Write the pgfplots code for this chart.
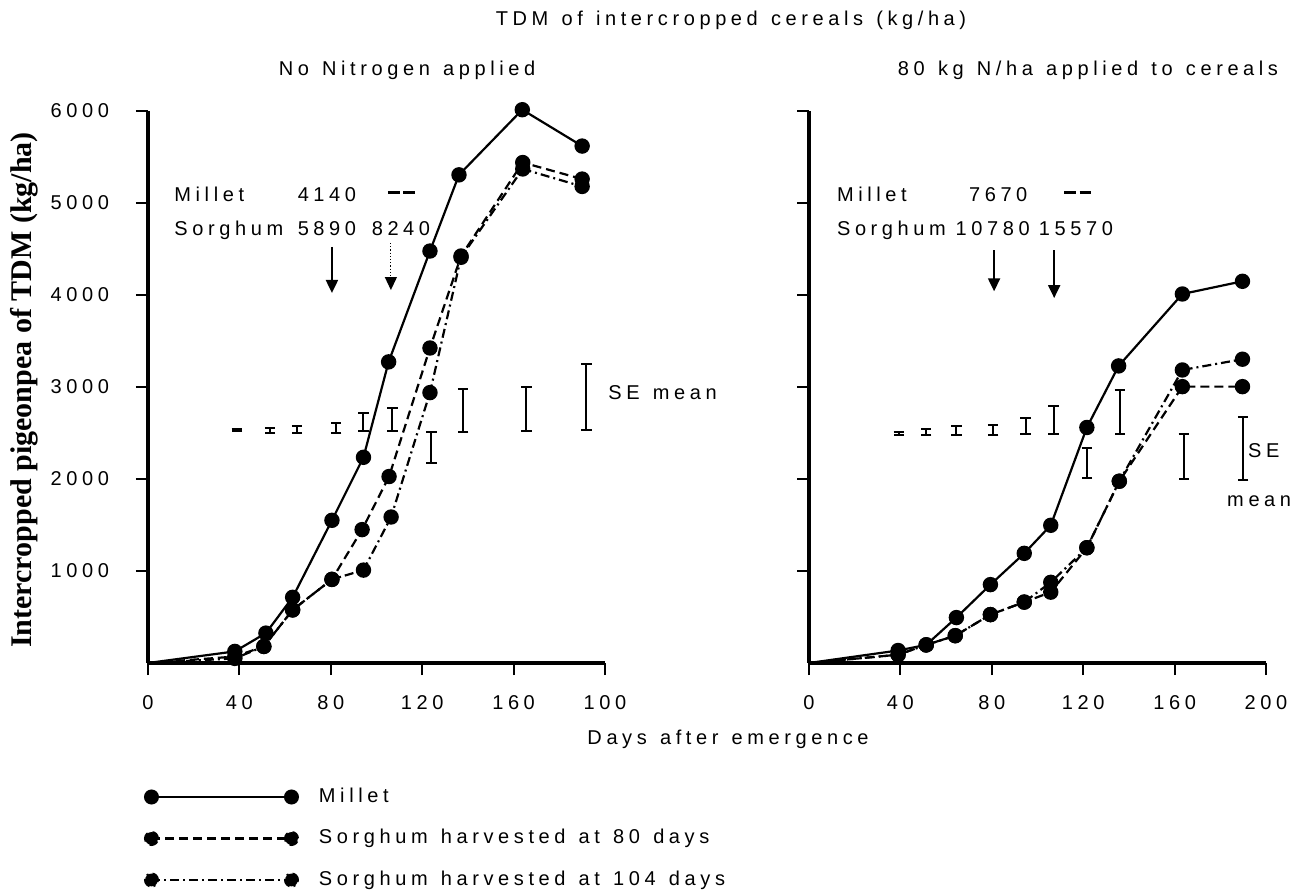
\documentclass[border=0pt]{standalone}
\usepackage{fontspec}
\setmainfont{Liberation Sans}[LetterSpace=23,WordSpace=1.3]
\newfontfamily\ylabfont{Liberation Serif}
\usepackage{pgfplots}
\pgfplotsset{compat=1.18}
\usetikzlibrary{arrows.meta}

\pgfplotsset{
  panel/.style={
    scale only axis, width=228.5pt, height=276pt,
    xmin=0, xmax=200, ymin=0, ymax=6000,
    axis x line*=bottom, axis y line*=left,
    axis line style={line width=1.6pt},
    tick align=outside, major tick length=6pt,
    every tick/.style={black, line width=1pt},
    xtick={0,40,...,200}, ytick={1000,2000,...,6000},
    clip=false,
    /pgf/number format/assume math mode=true,
    /pgf/number format/1000 sep={},
    xticklabel style={yshift=-6.7pt},
    yticklabel style={xshift=-10pt},
    legend image code/.code={
      \draw[#1, mark=none] (0pt,0pt) -- (70pt,0pt);
      \fill[black] (0pt,0pt) circle (3.2pt);
      \fill[black] (70pt,0pt) circle (3.2pt);},
  },
  mil/.style={black, line width=1.1pt, solid, mark=*, mark size=3.3pt, mark options={solid, fill=black}, mark phase=2, mark repeat=1},
  sa/.style={black, line width=1.1pt, dash pattern=on 4.5pt off 2.5pt, mark=*, mark size=3.3pt, mark options={solid, fill=black}, mark phase=2, mark repeat=1},
  sb/.style={black, line width=1.1pt, dash pattern=on 4.5pt off 2pt on 1pt off 2pt, mark=*, mark size=3.3pt, mark options={solid, fill=black}, mark phase=2, mark repeat=1},
  se/.style={forget plot, black, mark=none, draw=none,
    error bars/.cd, y dir=both, y explicit,
    error bar style={draw=black, solid, line width=1pt},
    error mark options={draw=black, solid, rotate=90, mark size=2.6pt, line width=1pt}},
}

\begin{document}
\fontsize{10pt}{12pt}\selectfont
\begin{tikzpicture}
\path[use as bounding box] (0,0) rectangle (647pt,447.5pt);

% ---------- Left panel ----------
\begin{axis}[panel, at={(74pt,116pt)}, anchor=south west,
  xticklabels={0,40,80,120,160,100},
  legend style={at={(axis description cs:-0.0088,-0.2237)}, anchor=north west,
    draw=none, fill=none, inner sep=0pt, outer sep=0pt, row sep=10.25pt,
    nodes={inner sep=0pt, text height=8pt, text depth=2.5pt},
    /tikz/every odd column/.append style={column sep=10pt}},
  legend cell align=left]
\addplot[mil] coordinates {(0,0) (38,126) (51.6,325) (63.3,714) (80.5,1551) (94.3,2236) (105.3,3273) (123.4,4478) (136.1,5306) (163.8,6014) (190,5619)};
\addlegendentry{Millet}
\addplot[sa] coordinates {(0,0) (38,70) (50.7,180) (63.3,577) (80.5,909) (93.7,1450) (105.5,2027) (123.4,3424) (137,4424) (164,5440) (190,5260)};
\addlegendentry{Sorghum harvested at 80 days}
\addplot[sb] coordinates {(0,0) (38,50) (50.7,180) (63.3,577) (80.5,909) (94.3,1010) (106.4,1587) (123.4,2939) (137,4410) (164,5370) (190,5180)};
\addlegendentry{Sorghum harvested at 104 days}
\addplot[se] coordinates {
  (38.9,2532) +- (0,8) (53.4,2525) +- (0,25) (65.2,2539) +- (0,40)
  (82.4,2553) +- (0,54) (94.3,2619) +- (0,94) (107,2644) +- (0,127)
  (124,2339) +- (0,168) (137.9,2741) +- (0,235) (165.6,2759) +- (0,242)
  (191.9,2888) +- (0,357)};
\node[anchor=base west, inner sep=0pt] at (axis cs:11.4,5014) {Millet};
\node[anchor=base, inner sep=0pt] at (axis cs:78.3,5014) {4140};
\draw[line width=1.5pt, dash pattern=on 6pt off 1.7pt] (axis cs:105,5112) -- (axis cs:117.7,5112);
\node[anchor=base west, inner sep=0pt] at (axis cs:11.4,4652) {Sorghum};
\node[anchor=base, inner sep=0pt] at (axis cs:78.3,4652) {5890};
\node[anchor=base, inner sep=0pt] at (axis cs:110.7,4652) {8240};
\draw[line width=1pt, -{Triangle[length=6.5pt,width=6pt]}] (axis cs:80.5,4522) -- (axis cs:80.5,4022);
\draw[line width=0.6pt, densely dotted, -{Triangle[length=6.5pt,width=6pt]}] (axis cs:106.3,4565) -- (axis cs:106.3,4054);
\node[anchor=base west, inner sep=0pt] at (axis cs:201.3,2859) {SE mean};
\end{axis}

% ---------- Right panel ----------
\begin{axis}[panel, at={(404.5pt,116pt)}, anchor=south west, yticklabels={}]
\addplot[mil] coordinates {(0,0) (39,136) (51.3,197) (64.5,494) (79.4,852) (94.2,1192) (105.8,1497) (121.6,2560) (135.5,3229) (163.4,4011) (189.7,4149)};
\addplot[sa] coordinates {(0,0) (39,90) (51.3,197) (64,297) (79.4,526) (94.2,662) (105.8,770) (121.6,1253) (135.8,1976) (163.4,3004) (189.7,3004)};
\addplot[sb] coordinates {(0,0) (39,90) (51.3,197) (64,297) (79.4,526) (94.2,662) (105.8,877) (121.6,1253) (135.8,1976) (163.4,3185) (189.7,3302)};
\addplot[se] coordinates {
  (39.3,2495) +- (0,18) (51.3,2510) +- (0,32) (64.5,2528) +- (0,50)
  (80.6,2531) +- (0,53) (94.8,2577) +- (0,90) (107,2640) +- (0,152)
  (121.6,2177) +- (0,162) (136,2726) +- (0,238) (164,2243) +- (0,245)
  (190,2332) +- (0,345)};
\node[anchor=base west, inner sep=0pt] at (axis cs:12.1,5014) {Millet};
\node[anchor=base, inner sep=0pt] at (axis cs:82.8,5014) {7670};
\draw[line width=1.5pt, dash pattern=on 6pt off 1.7pt] (axis cs:111.7,5112) -- (axis cs:123.4,5112);
\node[anchor=base west, inner sep=0pt] at (axis cs:12.1,4652) {Sorghum};
\node[anchor=base, inner sep=0pt] at (axis cs:80.4,4652) {10780};
\node[anchor=base, inner sep=0pt] at (axis cs:116.8,4652) {15570};
\draw[line width=1pt, -{Triangle[length=6.5pt,width=6pt]}] (axis cs:81,4489) -- (axis cs:81,4040);
\draw[line width=1pt, -{Triangle[length=6.5pt,width=6pt]}] (axis cs:107.3,4489) -- (axis cs:107.3,3967);
\node[anchor=base west, inner sep=0pt] at (axis cs:192,2239) {SE};
\node[anchor=base, inner sep=0pt] at (axis cs:197,1696) {mean};
\end{axis}

% ---------- titles and labels ----------
\node[anchor=base] at (365.5pt,434.5pt) {TDM of intercropped cereals (kg/ha)};
\node[anchor=base] at (203.5pt,409.5pt) {No Nitrogen applied};
\node[anchor=base] at (544pt,409.5pt) {80 kg N/ha applied to cereals};
\node[anchor=base] at (364pt,75.5pt) {Days after emergence};
\node[rotate=90] at (12pt,252.5pt) {\fontsize{15pt}{18pt}\selectfont\ylabfont\bfseries Intercropped pigeonpea of TDM (kg/ha)};
\end{tikzpicture}
\end{document}
